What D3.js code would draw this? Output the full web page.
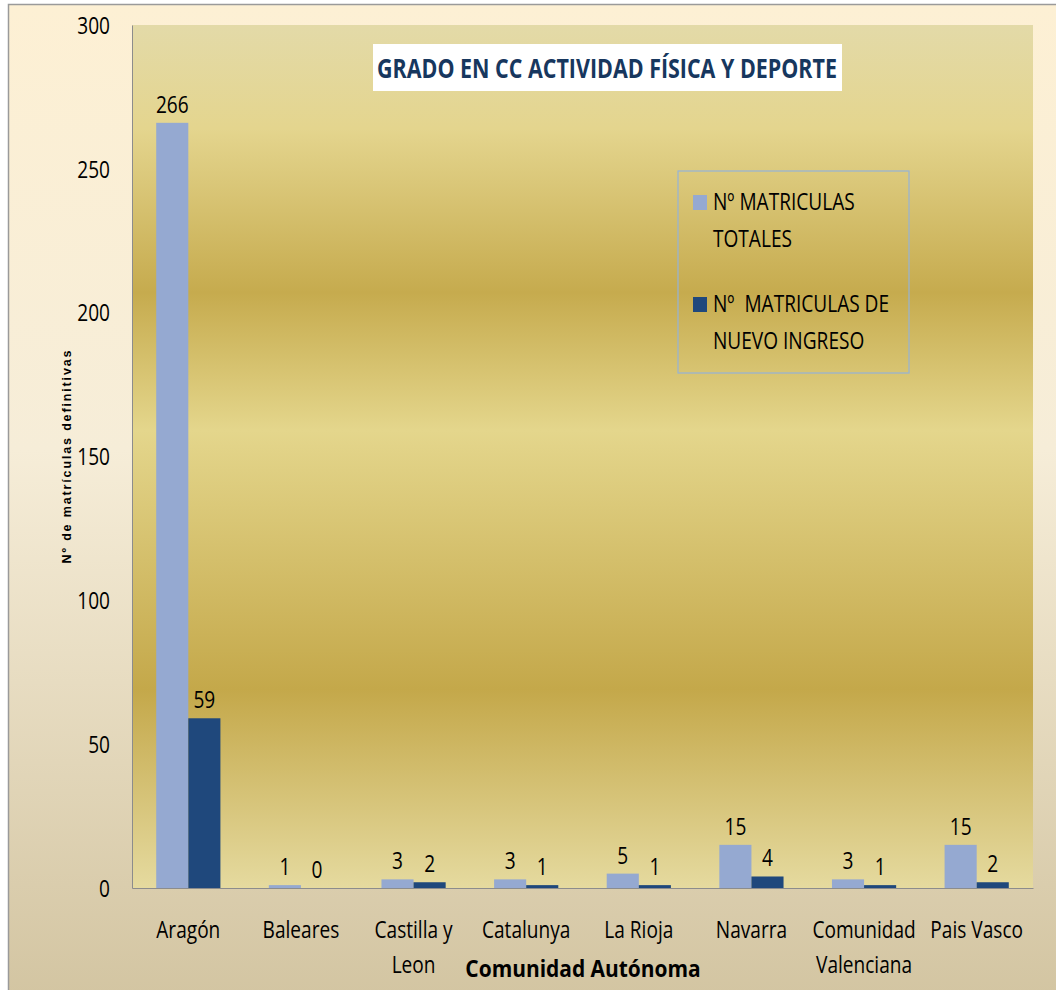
<!DOCTYPE html>
<html>
<head>
<meta charset="utf-8">
<script src="https://cdn.jsdelivr.net/npm/d3@7"></script>
<style>
  body { margin: 0; background: #fff; }
  text { font-family: "Open Sans", "Liberation Sans", sans-serif; }
</style>
</head>
<body>
<div id="chart"></div>
<script>
// chart data
var categories = ["Aragón", "Baleares", "Castilla y Leon", "Catalunya", "La Rioja", "Navarra", "Comunidad Valenciana", "Pais Vasco"];
var totales = [266, 1, 3, 3, 5, 15, 3, 15];
var nuevoIngreso = [59, 0, 2, 1, 1, 4, 1, 2];
var seriesNames = ["Nº MATRICULAS TOTALES", "Nº  MATRICULAS DE NUEVO INGRESO"];
var yTicks = [0, 50, 100, 150, 200, 250, 300];

var W = 1056, H = 990;
var plot = { left: 132, top: 25, right: 1033, bottom: 888 };
var colors = ["#95A9D1", "#1F487C"];
var SX = 0.83; // horizontal squeeze to mimic a narrow face

var svg = d3.select("#chart").append("svg")
  .attr("width", W).attr("height", H);

var defs = svg.append("defs");

// outer chart-area gradient (cream to tan)
var outerGrad = defs.append("linearGradient")
  .attr("id", "outerGrad").attr("x1", 0).attr("y1", 0).attr("x2", 0).attr("y2", 1);
[[0, "#FDF0D4"], [0.45, "#F6EDD8"], [1, "#D3C5A2"]].forEach(function(s) {
  outerGrad.append("stop").attr("offset", s[0]).attr("stop-color", s[1]);
});

// plot-area gold gradient
var plotGrad = defs.append("linearGradient")
  .attr("id", "plotGrad").attr("x1", 0).attr("y1", 0).attr("x2", 0).attr("y2", 1);
[[0, "#E3DAA8"], [0.12, "#E4D58E"], [0.31, "#C6AB4E"], [0.47, "#E4D68C"],
 [0.77, "#C4A84A"], [1, "#E5DA9F"]].forEach(function(s) {
  plotGrad.append("stop").attr("offset", s[0]).attr("stop-color", s[1]);
});

svg.append("rect")
  .attr("x", 8.5).attr("y", 4.5).attr("width", W).attr("height", H)
  .attr("fill", "url(#outerGrad)")
  .attr("stroke", "#9a9a9a").attr("stroke-width", 1.5);

svg.append("rect")
  .attr("x", plot.left).attr("y", plot.top)
  .attr("width", plot.right - plot.left).attr("height", plot.bottom - plot.top)
  .attr("fill", "url(#plotGrad)");

// squeeze text horizontally around its own x
function condense(sel, sx) {
  sel.each(function() {
    var el = d3.select(this);
    var x = +el.attr("x") || 0;
    el.attr("transform", "translate(" + x + ",0) scale(" + sx + ",1) translate(" + (-x) + ",0)");
  });
}

// scales
var x0 = d3.scaleBand()
  .domain(categories)
  .range([plot.left, plot.right]);

var bw = x0.bandwidth();
var groupW = bw * 0.57;
var x1 = d3.scaleBand()
  .domain([0, 1])
  .range([(bw - groupW) / 2, (bw + groupW) / 2]);

var y = d3.scaleLinear()
  .domain([0, 300])
  .range([plot.bottom, plot.top]);

// bars
var rows = categories.map(function(c, i) {
  return { cat: c, values: [totales[i], nuevoIngreso[i]] };
});

var groups = svg.selectAll(".grp")
  .data(rows).enter()
  .append("g")
  .attr("class", "grp")
  .attr("transform", function(d) { return "translate(" + x0(d.cat) + ",0)"; });

groups.selectAll("rect")
  .data(function(d) { return d.values.map(function(v, k) { return { k: k, v: v }; }); })
  .enter().append("rect")
  .attr("x", function(d) { return x1(d.k); })
  .attr("y", function(d) { return y(d.v); })
  .attr("width", x1.bandwidth())
  .attr("height", function(d) { return y(0) - y(d.v); })
  .attr("fill", function(d) { return colors[d.k]; });

groups.selectAll(".lbl")
  .data(function(d) { return d.values.map(function(v, k) { return { k: k, v: v }; }); })
  .enter().append("text")
  .attr("class", "lbl")
  .attr("x", function(d) { return x1(d.k) + x1.bandwidth() / 2; })
  .attr("y", function(d) { return y(d.v) - 10; })
  .attr("text-anchor", "middle")
  .style("font-size", "23px")
  .text(function(d) { return d.v; })
  .call(condense, SX);

// axes
var yAxis = d3.axisLeft(y).tickValues(yTicks).tickSize(0).tickPadding(22);
var gy = svg.append("g")
  .attr("transform", "translate(" + plot.left + ",0)")
  .call(yAxis);
gy.select(".domain").attr("stroke", "#8c8c8c");
gy.selectAll("text").style("font-size", "23px").attr("fill", "#000").attr("dy", "0.36em")
  .call(condense, SX);

var xAxis = d3.axisBottom(x0).tickSize(0).tickPadding(34);
var gx = svg.append("g")
  .attr("transform", "translate(0," + plot.bottom + ")")
  .call(xAxis);
gx.select(".domain").attr("stroke", "#8c8c8c");
gx.selectAll("text").style("font-size", "23px").attr("fill", "#000")
  .call(wrap, bw)
  .call(condense, SX);

function wrap(texts, width) {
  texts.each(function() {
    var t = d3.select(this);
    var words = t.text().split(/\s+/);
    var yy = t.attr("y"), dy = parseFloat(t.attr("dy"));
    var line = [], lineNo = 0;
    var tspan = t.text(null).append("tspan").attr("x", 0).attr("y", yy).attr("dy", dy + "em");
    words.forEach(function(w) {
      line.push(w);
      tspan.text(line.join(" "));
      if (tspan.node().getComputedTextLength() * SX > width - 4 && line.length > 1) {
        line.pop();
        tspan.text(line.join(" "));
        line = [w];
        tspan = t.append("tspan").attr("x", 0).attr("y", yy)
          .attr("dy", (++lineNo * 1.52 + dy) + "em").text(w);
      }
    });
  });
}

// axis titles
svg.append("text")
  .attr("x", 583).attr("y", 977)
  .attr("text-anchor", "middle")
  .style("font-size", "23px").style("font-weight", "bold")
  .text("Comunidad Autónoma")
  .call(condense, 0.91);

svg.append("text")
  .attr("transform", "translate(71,457) rotate(-90)")
  .attr("text-anchor", "middle")
  .style("font-family", "'Liberation Sans', sans-serif")
  .style("font-size", "12.5px").style("font-weight", "bold")
  .attr("textLength", 213)
  .attr("lengthAdjust", "spacing")
  .text("Nº de matrículas  definitivas");

// title
svg.append("rect")
  .attr("x", 373).attr("y", 44).attr("width", 469).attr("height", 47)
  .attr("fill", "#fff");
svg.append("text")
  .attr("x", 607).attr("y", 78)
  .attr("text-anchor", "middle")
  .style("font-size", "27px").style("font-weight", "bold")
  .style("fill", "#17375E")
  .text("GRADO EN CC ACTIVIDAD FÍSICA Y DEPORTE")
  .call(condense, 0.795);

// legend
var legend = svg.append("g").attr("transform", "translate(678,171)");
legend.append("rect")
  .attr("width", 231).attr("height", 202)
  .attr("fill", "none").attr("stroke", "#95B3D7").attr("stroke-width", 1.2);

var legendLines = [["Nº MATRICULAS", "TOTALES"], ["Nº  MATRICULAS DE", "NUEVO INGRESO"]];
var items = legend.selectAll(".item")
  .data(seriesNames).enter()
  .append("g")
  .attr("class", "item")
  .attr("transform", function(d, i) { return "translate(0," + (i * 102) + ")"; });

items.append("rect")
  .attr("x", 15).attr("y", 24).attr("width", 14).attr("height", 15)
  .attr("fill", function(d, i) { return colors[i]; });

items.append("text")
  .attr("x", 35).attr("y", 39)
  .style("font-size", "23px")
  .style("white-space", "pre")
  .call(condense, SX)
  .selectAll("tspan")
  .data(function(d, i) { return legendLines[i]; })
  .enter().append("tspan")
  .attr("x", 35)
  .attr("dy", function(d, j) { return j ? 37 : 0; })
  .text(function(d) { return d; });
</script>
</body>
</html>
